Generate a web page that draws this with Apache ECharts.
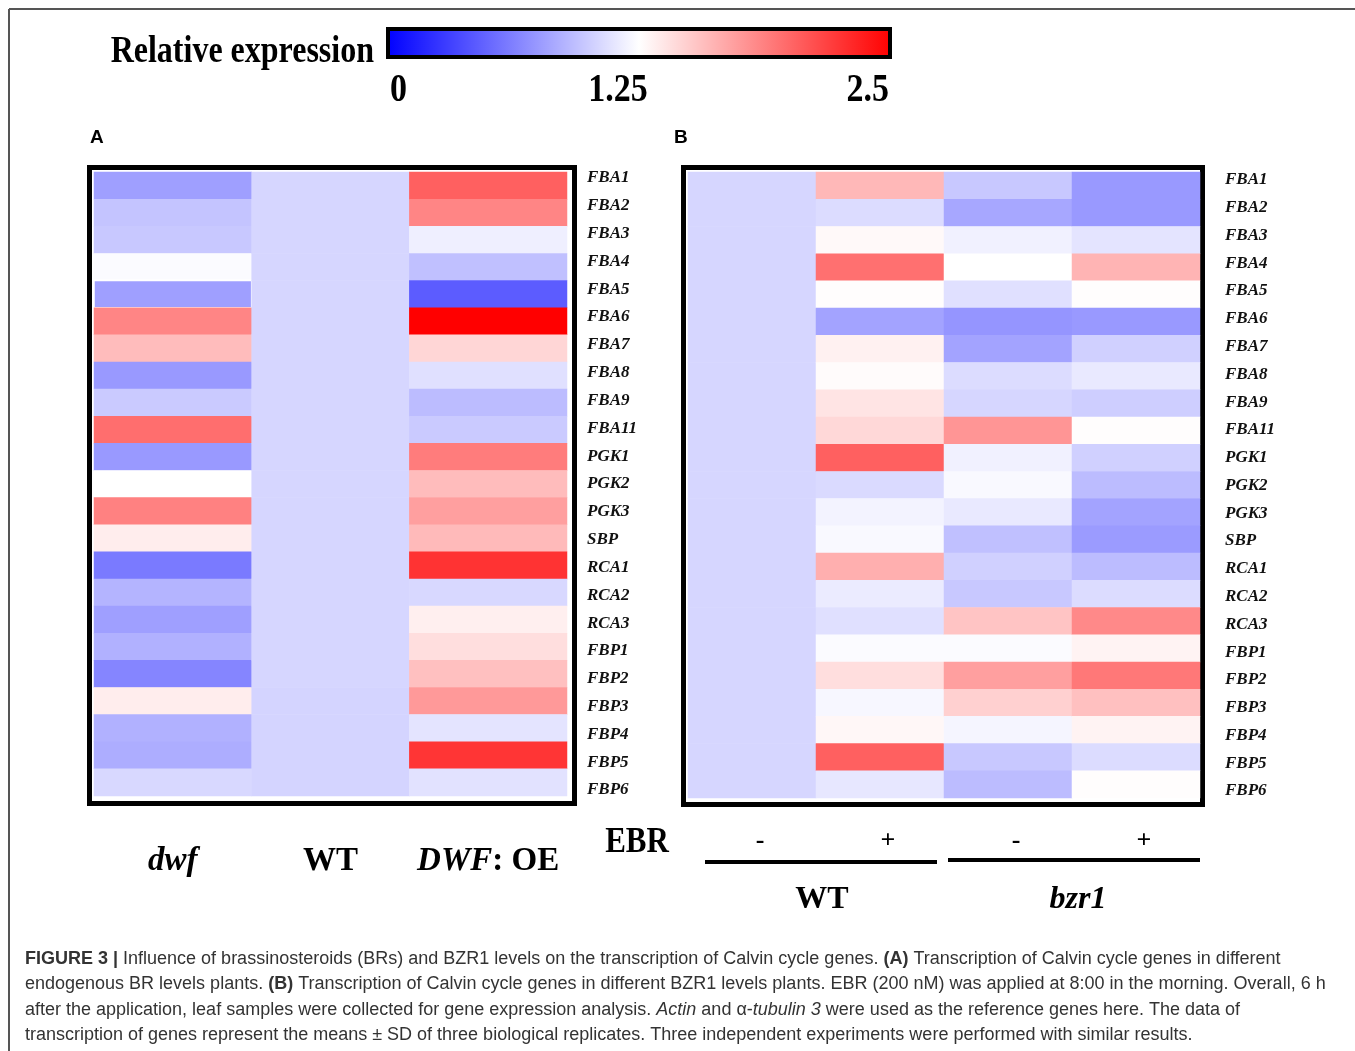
<!DOCTYPE html>
<html>
<head>
<meta charset="utf-8">
<script src="https://cdn.jsdelivr.net/npm/echarts@6/dist/echarts.min.js"></script>
<style>
html,body{margin:0;padding:0;background:#fff;}
#chart{width:1355px;height:1051px;}
</style>
</head>
<body>
<div id="chart"></div>
<script>
// ---------- DATA ----------
const genes = ['FBA1','FBA2','FBA3','FBA4','FBA5','FBA6','FBA7','FBA8','FBA9','FBA11','PGK1','PGK2','PGK3','SBP','RCA1','RCA2','RCA3','FBP1','FBP2','FBP3','FBP4','FBP5','FBP6'];

// Panel A: endogenous BR levels
const panelAGroups = ['dwf', 'WT', 'DWF: OE'];
const dwfValues   = [0.78,0.96,0.98,1.23,0.78,1.85,1.58,0.75,0.99,1.96,0.75,1.25,1.87,1.34,0.60,0.88,0.78,0.87,0.65,1.34,0.87,0.85,1.06];
const wtAValues   = [1.05,1.05,1.05,1.05,1.05,1.05,1.05,1.05,1.05,1.05,1.05,1.05,1.05,1.05,1.05,1.05,1.05,1.05,1.05,1.04,1.04,1.04,1.04];
const dwfOEValues = [2.03,1.85,1.17,0.94,0.45,2.50,1.45,1.10,0.92,0.99,1.89,1.58,1.72,1.59,2.25,1.06,1.33,1.41,1.56,1.75,1.12,2.24,1.11];

// Panel B: BZR1 levels, EBR - / +
const panelBTreatments = ['-', '+', '-', '+'];
const panelBGenotypes  = ['WT', 'bzr1'];
const wtMinusValues   = [1.05,1.05,1.05,1.05,1.05,1.05,1.05,1.05,1.05,1.05,1.05,1.05,1.05,1.05,1.05,1.05,1.05,1.05,1.05,1.05,1.05,1.05,1.05];
const wtPlusValues    = [1.60,1.08,1.28,1.95,1.26,0.80,1.32,1.27,1.38,1.44,2.03,1.07,1.19,1.22,1.64,1.15,1.10,1.23,1.41,1.21,1.29,2.03,1.13];
const bzr1MinusValues = [0.98,0.82,1.18,1.25,1.10,0.73,0.80,1.08,1.05,1.77,1.18,1.22,1.14,0.94,1.02,0.98,1.54,1.23,1.72,1.48,1.20,0.98,0.92];
const bzr1PlusValues  = [0.75,0.75,1.12,1.62,1.26,0.75,1.02,1.14,1.01,1.26,1.02,0.92,0.80,0.76,0.92,1.08,1.83,1.31,1.91,1.56,1.31,1.08,1.26];

// Colour scale
const scaleMin = 0, scaleMax = 2.5;
const scaleTicks = ['0', '1.25', '2.5'];
const scaleColors = ['#0000ff', '#ffffff', '#ff0000'];

// ---------- BUILD ----------
function cells(columns) {
  const out = [];
  columns.forEach((col, c) => col.forEach((v, r) => out.push([c, r, v])));
  return out;
}
const dataA = cells([dwfValues, wtAValues, dwfOEValues]);
const dataB = cells([wtMinusValues, wtPlusValues, bzr1MinusValues, bzr1PlusValues]);
// the dwf / FBA5 cell has a thin white outline in the original
dataA.forEach((d, i) => {
  if (d[0] === 0 && genes[d[1]] === 'FBA5') {
    dataA[i] = { value: d, itemStyle: { borderColor: '#ffffff', borderWidth: 2 } };
  }
});

const SERIF = '"Liberation Serif", "Times New Roman", serif';
const SANS = '"Liberation Sans", Arial, sans-serif';

const geneLabelStyle = {
  fontFamily: SERIF, fontStyle: 'italic', fontWeight: 'bold', fontSize: 17, color: '#111'
};

const chart = echarts.init(document.getElementById('chart'), null, { renderer: 'canvas' });

const caption =
  '{b|FIGURE 3 |} {n|Influence of brassinosteroids (BRs) and BZR1 levels on the transcription of Calvin cycle genes. }{b|(A)}{n| Transcription of Calvin cycle genes in different}\n' +
  '{n|endogenous BR levels plants. }{b|(B)}{n| Transcription of Calvin cycle genes in different BZR1 levels plants. EBR (200 nM) was applied at 8:00 in the morning. Overall, 6 h}\n' +
  '{n|after the application, leaf samples were collected for gene expression analysis. }{i|Actin}{n| and α-}{i|tubulin 3}{n| were used as the reference genes here. The data of}\n' +
  '{n|transcription of genes represent the means ± SD of three biological replicates. Three independent experiments were performed with similar results.}';

const capFont = 18;
function stretchedText(x, y, text, font, align, sy) {
  return { type: 'text', x: x, y: y, scaleY: sy, originX: 0, originY: 0,
    style: { text: text, font: font, fill: '#000', align: align, verticalAlign: 'middle' } };
}

const option = {
  backgroundColor: '#ffffff',
  animation: false,
  visualMap: {
    show: false, type: 'continuous', min: scaleMin, max: scaleMax,
    seriesIndex: [0, 1], inRange: { color: scaleColors }
  },
  grid: [
    { left: 94, top: 172, width: 473, height: 624 },   // A cells
    { left: 688, top: 172, width: 512, height: 626 },  // B cells
    { left: 94, top: 164, width: 473, height: 640 },   // A gene labels
    { left: 688, top: 166, width: 512, height: 639 }   // B gene labels
  ],
  xAxis: [
    { type: 'category', gridIndex: 0, data: panelAGroups, position: 'bottom',
      axisLine: { show: false }, axisTick: { show: false }, splitLine: { show: false },
      axisLabel: {
        margin: 49, interval: 0,
        formatter: v => v === 'dwf' ? '{i|dwf}' : (v === 'DWF: OE' ? '{i|DWF}{b|: OE}' : '{b|' + v + '}'),
        rich: {
          i: { fontFamily: SERIF, fontStyle: 'italic', fontWeight: 'bold', fontSize: 33, color: '#000' },
          b: { fontFamily: SERIF, fontWeight: 'bold', fontSize: 33, color: '#000' }
        }
      } },
    { type: 'category', gridIndex: 1, data: panelBTreatments, position: 'bottom',
      axisLine: { show: false }, axisTick: { show: false }, splitLine: { show: false },
      axisLabel: { margin: 30, interval: 0, padding: [0, 0, 0, 16],
        fontFamily: SERIF, fontWeight: 'bold', fontSize: 26, color: '#000' } },
    { type: 'category', gridIndex: 1, data: panelBGenotypes, position: 'bottom', offset: 86,
      axisLine: { show: false }, axisTick: { show: false }, splitLine: { show: false },
      axisLabel: { margin: 0, interval: 0, padding: [0, 0, 0, 12],
        formatter: v => v === 'bzr1' ? '{i|bzr1}' : '{b|' + v + '}',
        rich: {
          i: { fontFamily: SERIF, fontStyle: 'italic', fontWeight: 'bold', fontSize: 32, color: '#000' },
          b: { fontFamily: SERIF, fontWeight: 'bold', fontSize: 32, color: '#000' }
        } } },
    { type: 'category', gridIndex: 2, data: ['x'], show: false },
    { type: 'category', gridIndex: 3, data: ['x'], show: false }
  ],
  yAxis: [
    { type: 'category', gridIndex: 0, data: genes, inverse: true, show: false },
    { type: 'category', gridIndex: 1, data: genes, inverse: true, show: false },
    { type: 'category', gridIndex: 2, data: genes, inverse: true, position: 'right',
      axisLine: { show: false }, axisTick: { show: false }, splitLine: { show: false },
      axisLabel: Object.assign({ margin: 20, align: 'left', interval: 0 }, geneLabelStyle) },
    { type: 'category', gridIndex: 3, data: genes, inverse: true, position: 'right',
      axisLine: { show: false }, axisTick: { show: false }, splitLine: { show: false },
      axisLabel: Object.assign({ margin: 25, align: 'left', interval: 0 }, geneLabelStyle) }
  ],
  series: [
    { type: 'heatmap', xAxisIndex: 0, yAxisIndex: 0, data: dataA,
      emphasis: { disabled: true }, progressive: 0 },
    { type: 'heatmap', xAxisIndex: 1, yAxisIndex: 1, data: dataB,
      emphasis: { disabled: true }, progressive: 0 }
  ],
  graphic: [
    // page frame
    { type: 'line', shape: { x1: 9, y1: 9, x2: 1355, y2: 9 }, style: { stroke: '#555', lineWidth: 2 } },
    { type: 'line', shape: { x1: 9, y1: 9, x2: 9, y2: 1051 }, style: { stroke: '#555', lineWidth: 2 } },
    // colour bar
    { type: 'rect', shape: { x: 388, y: 29, width: 502, height: 28 },
      style: { fill: { type: 'linear', x: 0, y: 0, x2: 1, y2: 0,
        colorStops: scaleColors.map((c, i) => ({ offset: i / (scaleColors.length - 1), color: c })) },
        stroke: '#000', lineWidth: 4 } },
    stretchedText(374, 52, 'Relative expression', 'bold 32px ' + SERIF, 'right', 1.2),
    stretchedText(390, 90, scaleTicks[0], 'bold 34px ' + SERIF, 'left', 1.2),
    stretchedText(618, 90, scaleTicks[1], 'bold 34px ' + SERIF, 'center', 1.2),
    stretchedText(889, 90, scaleTicks[2], 'bold 34px ' + SERIF, 'right', 1.2),
    // panel letters
    { type: 'text', x: 90, y: 138, style: { text: 'A', font: 'bold 19px ' + SANS, fill: '#000', verticalAlign: 'middle' } },
    { type: 'text', x: 674, y: 138, style: { text: 'B', font: 'bold 19px ' + SANS, fill: '#000', verticalAlign: 'middle' } },
    // panel frames
    { type: 'rect', shape: { x: 89.5, y: 167.5, width: 485, height: 636 }, style: { fill: 'none', stroke: '#000', lineWidth: 5 } },
    { type: 'rect', shape: { x: 683.5, y: 167.5, width: 519, height: 637 }, style: { fill: 'none', stroke: '#000', lineWidth: 5 } },
    // EBR header and group lines
    stretchedText(637, 843, 'EBR', 'bold 31px ' + SERIF, 'center', 1.15),
    { type: 'line', shape: { x1: 705, y1: 862, x2: 937, y2: 862 }, style: { stroke: '#000', lineWidth: 4 } },
    { type: 'line', shape: { x1: 948, y1: 860, x2: 1200, y2: 860 }, style: { stroke: '#000', lineWidth: 4 } },
    // caption
    { type: 'text', x: 25, y: 946,
      style: { text: caption, fill: '#333', font: capFont + 'px ' + SANS, lineHeight: 25.5,
        rich: {
          n: { fontFamily: SANS, fontSize: capFont, color: '#3a3a3a', lineHeight: 25.5 },
          b: { fontFamily: SANS, fontSize: capFont, fontWeight: 'bold', color: '#222', lineHeight: 25.5 },
          i: { fontFamily: SANS, fontSize: capFont, fontStyle: 'italic', color: '#3a3a3a', lineHeight: 25.5 }
        } } }
  ]
};
chart.setOption(option);
</script>
</body>
</html>
